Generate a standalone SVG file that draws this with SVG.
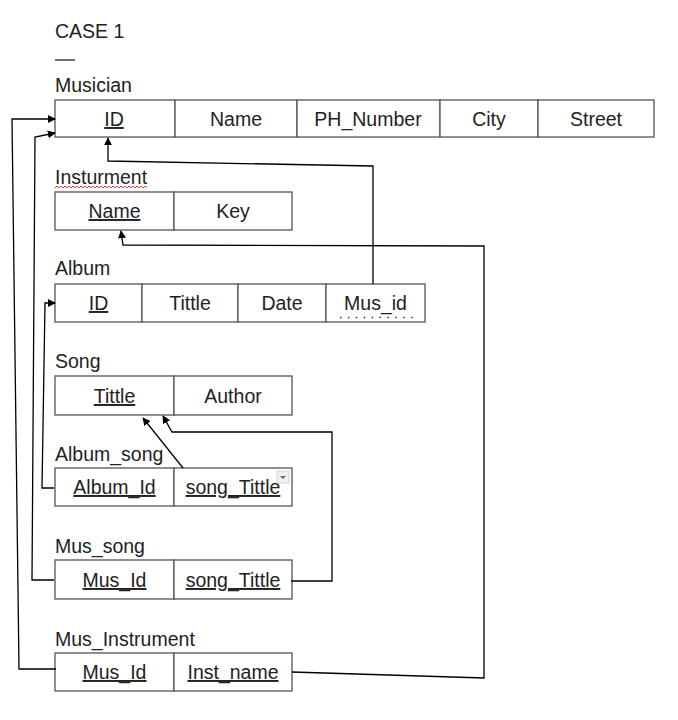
<svg xmlns="http://www.w3.org/2000/svg" width="678" height="720" viewBox="0 0 678 720">
<style>
text{font-family:"Liberation Sans",Arial,sans-serif;font-size:19.5px;fill:#222}
.c{text-anchor:middle}
.u{text-decoration:underline}
.cell{fill:#fff;stroke:#555;stroke-width:1.3}
.con{fill:none;stroke:#000;stroke-width:1.3}
</style>
<defs>
<marker id="ah" viewBox="0 0 10 10" refX="9" refY="5" markerWidth="8" markerHeight="8" markerUnits="userSpaceOnUse" orient="auto">
<path d="M0,0 L10,5 L0,10 z" fill="#000"/>
</marker>
</defs>
<rect width="678" height="720" fill="#fff"/>
<text x="55" y="38">CASE 1</text>
<line x1="55" y1="60" x2="75" y2="60" stroke="#222" stroke-width="1.3"/>

<g id="musician">
<text x="55" y="92">Musician</text>
<rect class="cell" x="55" y="100" width="120" height="37"/>
<rect class="cell" x="175" y="100" width="122" height="37"/>
<rect class="cell" x="297" y="100" width="143" height="37"/>
<rect class="cell" x="440" y="100" width="98" height="37"/>
<rect class="cell" x="538" y="100" width="116" height="37"/>
<text class="c u" x="114" y="126">ID</text>
<text class="c" x="236" y="126">Name</text>
<text class="c" x="368" y="126">PH_Number</text>
<text class="c" x="489" y="126">City</text>
<text class="c" x="596" y="126">Street</text>
</g>

<g id="insturment">
<text x="55" y="184">Insturment</text>
<path d="M55,188 l2,-2 l2,2 l2,-2 l2,2 l2,-2 l2,2 l2,-2 l2,2 l2,-2 l2,2 l2,-2 l2,2 l2,-2 l2,2 l2,-2 l2,2 l2,-2 l2,2 l2,-2 l2,2 l2,-2 l2,2 l2,-2 l2,2 l2,-2 l2,2 l2,-2 l2,2 l2,-2 l2,2 l2,-2 l2,2 l2,-2 l2,2 l2,-2 l2,2 l2,-2 l2,2 l2,-2 l2,2 l2,-2 l2,2 l2,-2 l2,2 l2,-2 l2,2" fill="none" stroke="#d33" stroke-width="0.9"/>
<rect class="cell" x="55" y="192" width="119" height="38"/>
<rect class="cell" x="174" y="192" width="118" height="38"/>
<text class="c u" x="114.5" y="218">Name</text>
<text class="c" x="233" y="218">Key</text>
</g>

<g id="album">
<text x="55" y="275">Album</text>
<rect class="cell" x="55" y="284" width="87" height="38"/>
<rect class="cell" x="142" y="284" width="96" height="38"/>
<rect class="cell" x="238" y="284" width="88" height="38"/>
<rect class="cell" x="326" y="284" width="99" height="38"/>
<text class="c u" x="98.5" y="310">ID</text>
<text class="c" x="190" y="310">Tittle</text>
<text class="c" x="282" y="310">Date</text>
<text class="c" x="375.5" y="310">Mus_id</text>
<line x1="340" y1="317.5" x2="413" y2="317.5" stroke="#333" stroke-width="1.5" stroke-dasharray="1.5,6.4"/>
</g>

<g id="song">
<text x="55" y="368">Song</text>
<rect class="cell" x="55" y="376" width="119" height="39"/>
<rect class="cell" x="174" y="376" width="118" height="39"/>
<text class="c u" x="114.5" y="403">Tittle</text>
<text class="c" x="233" y="403">Author</text>
</g>

<g id="album_song">
<text x="55" y="461">Album_song</text>
<rect class="cell" x="55" y="468" width="119" height="38"/>
<rect class="cell" x="174" y="468" width="118" height="38"/>
<text class="c u" x="114.5" y="494">Album_Id</text>
<text class="c u" x="233" y="494">song_Tittle</text>
<rect x="277" y="471" width="12" height="12" fill="#f0f0f0" stroke="#ccc" stroke-width="0.8"/>
<path d="M280,476 L286,476 L283,479 z" fill="#666"/>
</g>

<g id="mus_song">
<text x="55" y="553">Mus_song</text>
<rect class="cell" x="55" y="560" width="119" height="39"/>
<rect class="cell" x="174" y="560" width="118" height="39"/>
<text class="c u" x="114.5" y="587">Mus_Id</text>
<text class="c u" x="233" y="587">song_Tittle</text>
</g>

<g id="mus_instrument">
<text x="55" y="646">Mus_Instrument</text>
<rect class="cell" x="55" y="653" width="119" height="38"/>
<rect class="cell" x="174" y="653" width="118" height="38"/>
<text class="c u" x="114.5" y="679">Mus_Id</text>
<text class="c u" x="233" y="679">Inst_name</text>
</g>

<g id="connectors">
<polyline class="con" points="56,669 19,669 12,119 55,119" marker-end="url(#ah)"/>
<polyline class="con" points="54,580 32,580 35,137 55,133" marker-end="url(#ah)"/>
<polyline class="con" points="54,488 42,488 45,303 55,303" marker-end="url(#ah)"/>
<polyline class="con" points="373,284 373,166 108,161 108,138" marker-end="url(#ah)"/>
<polyline class="con" points="292,672 484,678 484,246 123,245 121,231" marker-end="url(#ah)"/>
<polyline class="con" points="183,468 143,418" marker-end="url(#ah)"/>
<polyline class="con" points="291,581 332,581 332,432 172,432 163,416" marker-end="url(#ah)"/>
</g>
</svg>
